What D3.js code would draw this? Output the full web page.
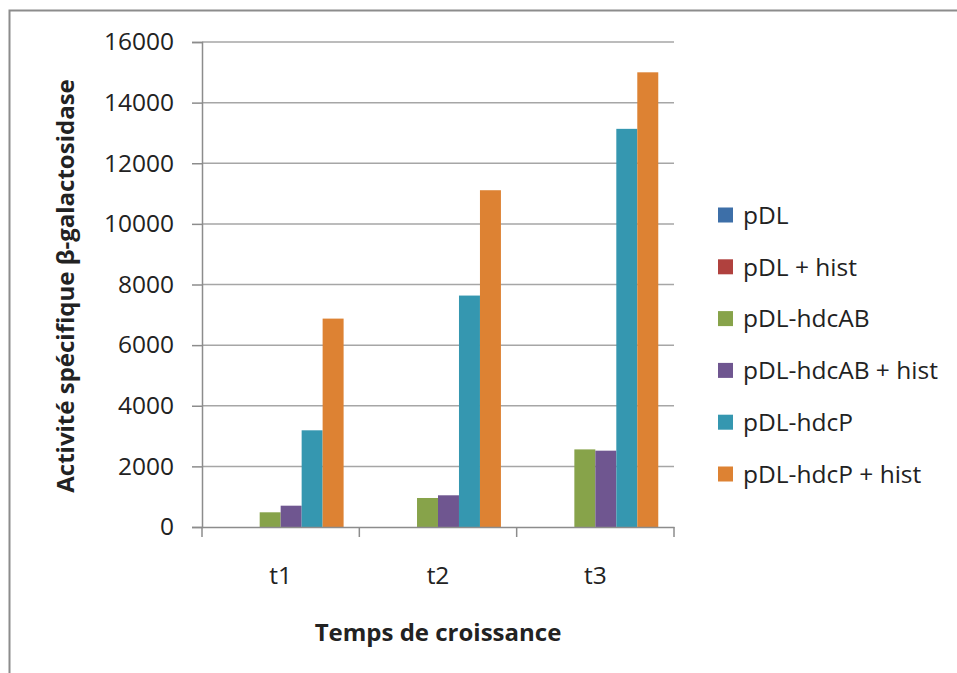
<!DOCTYPE html>
<html>
<head>
<meta charset="utf-8">
<script src="https://cdn.jsdelivr.net/npm/d3@7"></script>
<style>
  body { margin: 0; background: #fff; }
  text { font-family: "Open Sans", "Noto Sans", sans-serif; fill: #222; }
</style>
</head>
<body>
<svg id="chart" width="957" height="673"></svg>
<script>
// data
const categories = ["t1", "t2", "t3"]
const seriesNames = ["pDL", "pDL + hist", "pDL-hdcAB", "pDL-hdcAB + hist", "pDL-hdcP", "pDL-hdcP + hist"]
const pDL = [0, 0, 0]
const pDLHist = [0, 0, 0]
const hdcAB = [485, 957, 2560]
const hdcABHist = [703, 1046, 2518]
const hdcP = [3190, 7635, 13135]
const hdcPHist = [6875, 11110, 15000]
const yTicks = [0, 2000, 4000, 6000, 8000, 10000, 12000, 14000, 16000]
const colors = ["#3d6fa8", "#b0413e", "#87a34a", "#6f5690", "#3597b0", "#dd8233"]

const allSeries = [pDL, pDLHist, hdcAB, hdcABHist, hdcP, hdcPHist]

let svg = d3.select("#chart")

// outer frame (right/bottom edges are cut off in the original)
svg.append("rect")
    .attr("x", 9.5).attr("y", 10.5)
    .attr("width", 1000).attr("height", 700)
    .attr("fill", "none").attr("stroke", "#8c8c8c").attr("stroke-width", 2)

let plot = {left: 202, right: 674, top: 42, bottom: 527}

const y = d3.scaleLinear()
    .domain([0, 16000])
    .range([plot.bottom, plot.top])

const x0 = d3.scaleBand()
    .domain(categories)
    .range([plot.left, plot.right])
    .paddingInner(0).paddingOuter(0)

const x1 = d3.scaleBand()
    .domain(d3.range(seriesNames.length))
    .range([0, x0.bandwidth()])
    .paddingInner(0).paddingOuter(0.75)

// gridlines
svg.append("g").selectAll("line")
    .data(yTicks.filter(d => d > 0))
    .join("line")
    .attr("x1", plot.left).attr("x2", plot.right)
    .attr("y1", d => y(d)).attr("y2", d => y(d))
    .attr("stroke", "#a6a6a6").attr("stroke-width", 1.5)

// bars
let groups = svg.append("g").selectAll("g")
    .data(categories)
    .join("g")
    .attr("transform", d => "translate(" + x0(d) + ",0)")

groups.selectAll("rect")
    .data((c, i) => allSeries.map((s, k) => ({k: k, v: s[i]})))
    .join("rect")
    .attr("x", d => x1(d.k))
    .attr("width", x1.bandwidth())
    .attr("y", d => y(d.v))
    .attr("height", d => y(0) - y(d.v))
    .attr("fill", d => colors[d.k])

// y axis
let yAxis = svg.append("g")
    .attr("transform", "translate(" + plot.left + ",0)")
    .call(d3.axisLeft(y).tickValues(yTicks).tickSize(10).tickPadding(18).tickFormat(d3.format("d")))
yAxis.select(".domain").attr("stroke", "#8c8c8c").attr("stroke-width", 1.5)
yAxis.selectAll(".tick line").attr("stroke", "#8c8c8c").attr("stroke-width", 1.5)
yAxis.selectAll("text")
    .style("font-family", "'Open Sans', sans-serif")
    .style("font-size", "24.5px").attr("fill", "#222")

// x axis
let xAxis = svg.append("g")
    .attr("transform", "translate(0," + plot.bottom + ")")
    .call(d3.axisBottom(x0).tickSize(0).tickPadding(40))
xAxis.select(".domain").attr("stroke", "#8c8c8c").attr("stroke-width", 1.5)
xAxis.selectAll("text")
    .style("font-family", "'Open Sans', sans-serif")
    .style("font-size", "24.5px").attr("fill", "#222")

// category separators
svg.append("g").selectAll("line")
    .data(categories.map(c => x0(c)).concat([plot.right]))
    .join("line")
    .attr("x1", d => d).attr("x2", d => d)
    .attr("y1", plot.bottom).attr("y2", plot.bottom + 10)
    .attr("stroke", "#8c8c8c").attr("stroke-width", 1.5)

// axis titles
svg.append("text")
    .text("Activité spécifique β-galactosidase")
    .attr("transform", "translate(74,286) rotate(-90)")
    .style("text-anchor", "middle")
    .style("font-weight", "bold")
    .style("font-size", "24px")

svg.append("text")
    .text("Temps de croissance")
    .attr("x", 438).attr("y", 641)
    .style("text-anchor", "middle")
    .style("font-weight", "bold")
    .style("font-size", "24px")

// legend
let legend = svg.append("g").attr("transform", "translate(718,215)")
let items = legend.selectAll("g")
    .data(seriesNames)
    .join("g")
    .attr("transform", (d, i) => "translate(0," + (i * 51.8) + ")")

items.append("rect")
    .attr("x", 0).attr("y", -7.5)
    .attr("width", 15).attr("height", 15)
    .attr("fill", (d, i) => colors[i])

items.append("text")
    .text(d => d)
    .attr("x", 25).attr("y", 0)
    .attr("dy", "0.36em")
    .style("font-size", "24.5px")
</script>
</body>
</html>
